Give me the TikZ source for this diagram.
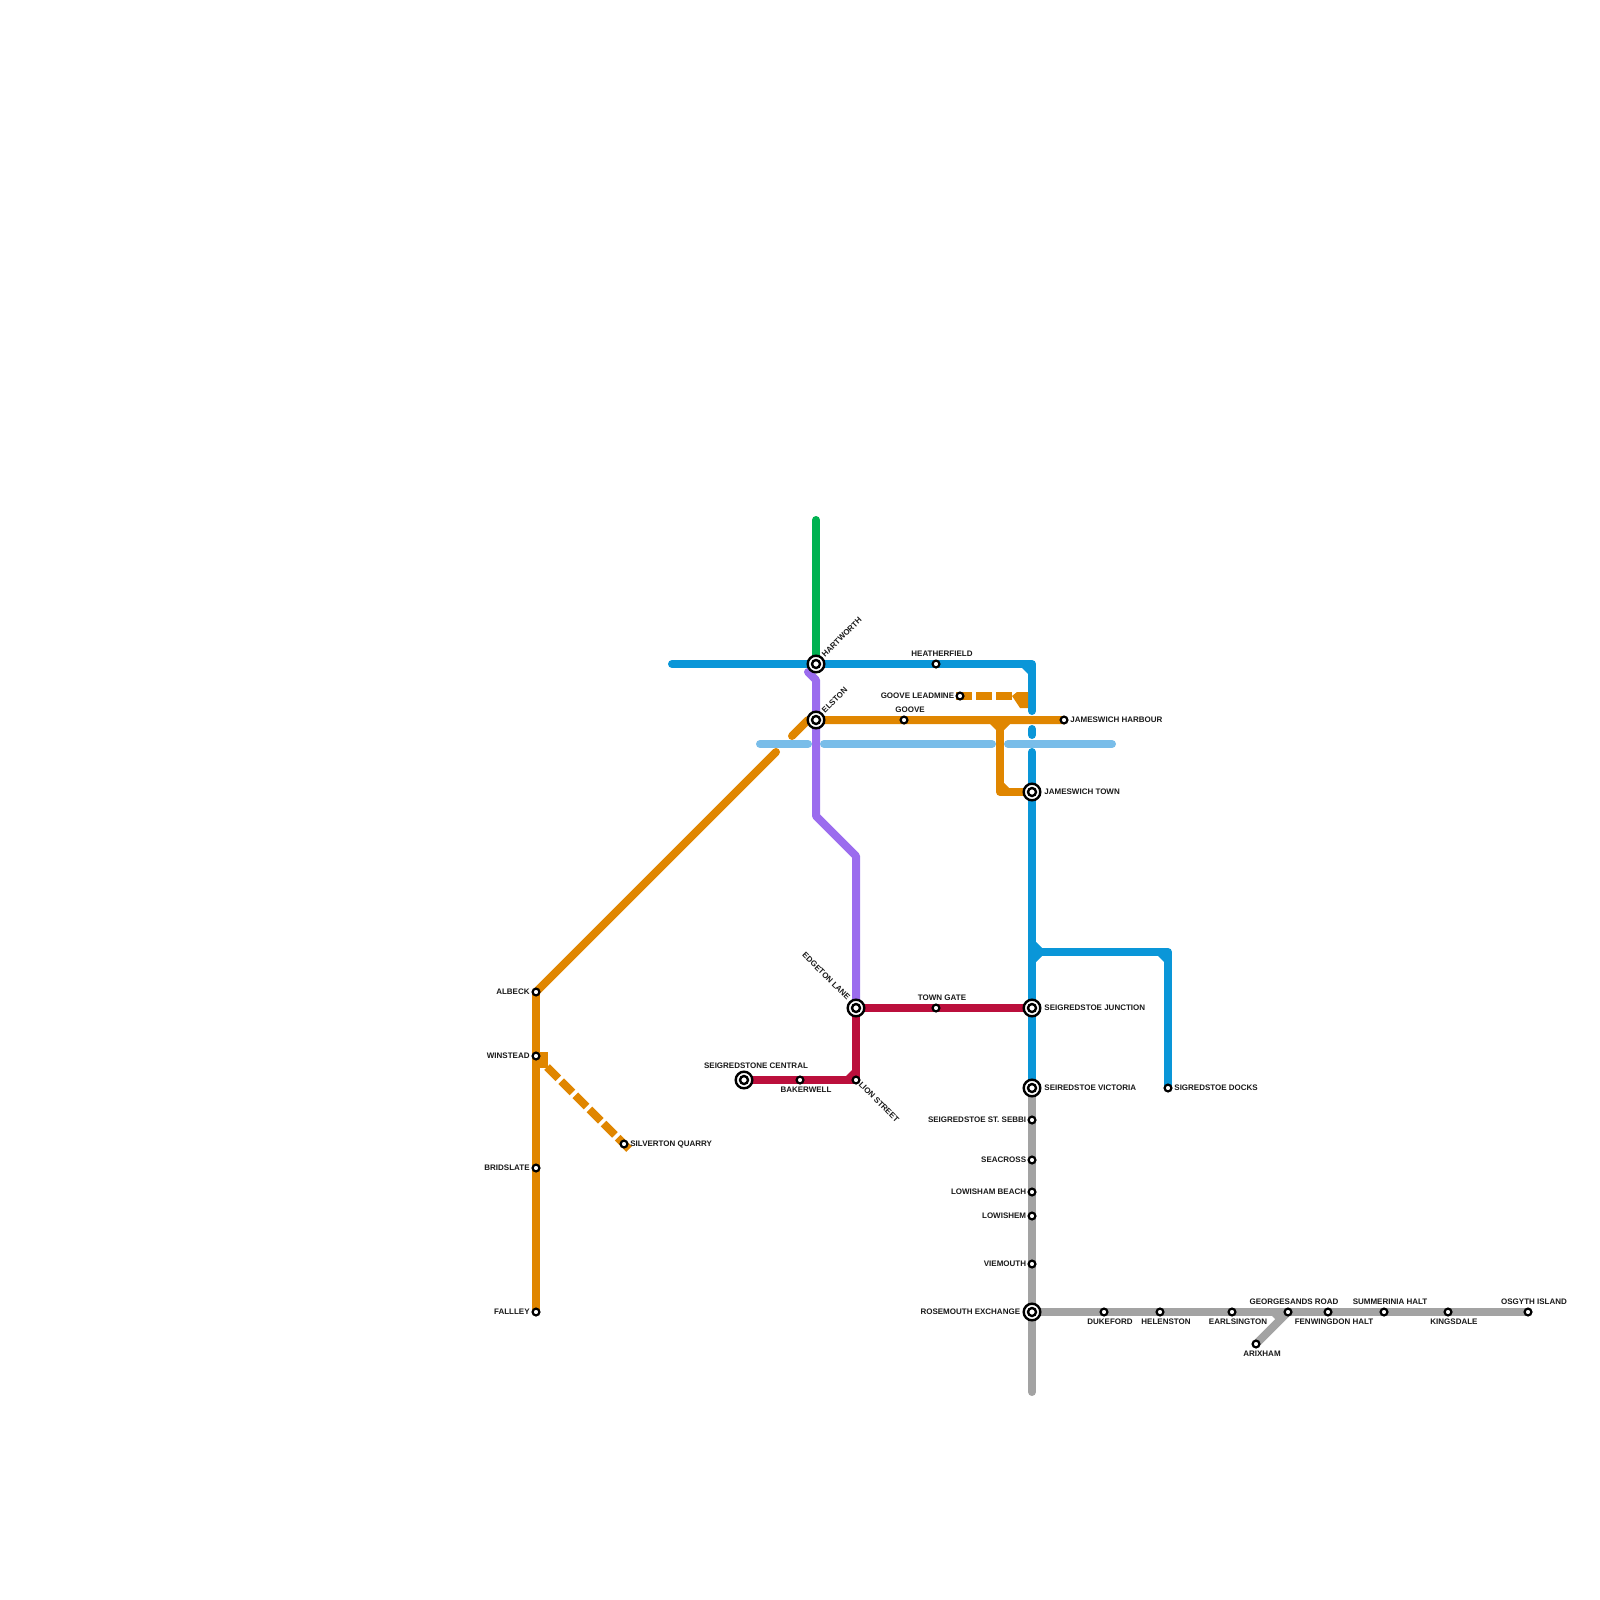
\documentclass[tikz,border=0pt]{standalone}
\usepackage{fontspec}
\setmainfont{Liberation Sans}
\usetikzlibrary{backgrounds}
\definecolor{cblue}{HTML}{0A96D8}
\definecolor{clight}{HTML}{79BDE9}
\definecolor{corange}{HTML}{E08600}
\definecolor{cpurple}{HTML}{9B6CEE}
\definecolor{cred}{HTML}{BB0F3C}
\definecolor{cgreen}{HTML}{00B251}
\definecolor{cgrey}{HTML}{A3A3A3}
\tikzset{
 x=0.5pt,y=-0.5pt,
 metro/.style={line width=4pt,line join=round,line cap=round},
 butt/.style={line width=4pt,line cap=butt,line join=miter},
 stn/.style={circle,draw=black,fill=white,line width=1.1pt,minimum size=3.4pt,inner sep=0pt},
 hub/.style={circle,draw=black,fill=white,line width=1.2pt,minimum size=8.3pt,inner sep=0pt},
 hubin/.style={circle,draw=black,fill=white,line width=1.2pt,minimum size=4pt,inner sep=0pt},
 lab/.style={font=\bfseries\fontsize{4pt}{4.2pt}\selectfont,inner sep=0pt,text=black!90},
}
\begin{document}
\begin{tikzpicture}
\useasboundingbox (0,0) rectangle (1600,1600);
% interchange stations
\foreach \n/\p in {hart/{816,664},elst/{816,720},jtown/{1032,792},edge/{856,1008},sjun/{1032,1008},svic/{1032,1088},scen/{744,1080},rose/{1032,1312}}{
  \node[hub] (\n) at (\p) {};
  \node[hubin] (\n in) at (\p) {};
}
% ordinary stations
\foreach \n/\p in {heat/{936,664},goove/{904,720},lead/{960,696},jhar/{1064,720},town/{936,1008},bake/{800,1080},lion/{856,1080},dock/{1168,1088},sebb/{1032,1120},seac/{1032,1160},lbea/{1032,1192},lowi/{1032,1216},viem/{1032,1264},duke/{1104,1312},hele/{1160,1312},earl/{1232,1312},geor/{1288,1312},fenw/{1328,1312},summ/{1384,1312},king/{1448,1312},osgy/{1528,1312},arix/{1256,1344},albe/{536,992},wins/{536,1056},brid/{536,1168},fall/{536,1312},silv/{624,1144}}{
  \node[stn] (\n) at (\p) {};
}
% bends and free ends
\coordinate (gtop) at (816,520);
\coordinate (bl) at (672,664);
\coordinate (bc) at (1032,664);
\coordinate (b1) at (1032,711);
\coordinate (b2) at (1032,729);
\coordinate (b3) at (1032,735);
\coordinate (b4) at (1032,752);
\coordinate (bj) at (1032,952);
\coordinate (bd) at (1168,952);
\coordinate (p0) at (808,672);
\coordinate (p1) at (816,680);
\coordinate (p2) at (816,816);
\coordinate (p3) at (856,856);
\coordinate (o1) at (776,752);
\coordinate (o2) at (792,736);
\coordinate (o3) at (808,720);
\coordinate (oj) at (1000,720);
\coordinate (ok) at (1000,792);
\coordinate (gb) at (1032,1392);
\coordinate (gj) at (1032,1312);
\coordinate (lb1) at (760,744);
\coordinate (lb2) at (808,744);
\coordinate (lb3) at (824,744);
\coordinate (lb4) at (992,744);
\coordinate (lb5) at (1008,744);
\coordinate (lb6) at (1112,744);
\begin{pgfonlayer}{background}
 \draw[metro,cgreen] (gtop) -- (hart.center);
 \draw[metro,cpurple] (p0) -- (p1) -- (p2) -- (p3) -- (edge.center);
 % blue
 \draw[metro,cblue] (bl) -- (hart.center) -- (bc) -- (b1);
 \draw[metro,cblue] (b2) -- (b3);
 \draw[metro,cblue] (b4) -- (svic.center);
 \draw[metro,cblue] (bj) -- (bd) -- (dock.center);
 \fill[cblue] (1028,668) -- (1022,668) -- (1028,674) -- cycle;
 \fill[cblue] (1164,956) -- (1158,956) -- (1164,962) -- cycle;
 \fill[cblue] (1036,942) -- (1036,948) -- (1042,948) -- cycle;
 \fill[cblue] (1036,962) -- (1036,956) -- (1042,956) -- cycle;
 % orange
 \draw[metro,corange] (albe.center) -- (o1);
 \draw[metro,corange] (o2) -- (o3) -- (elst.center) -- (goove.center) -- (jhar.center);
 \draw[metro,corange] (albe.center) -- (fall.center);
 \draw[metro,corange] (oj) -- (ok) -- (jtown.center);
 \fill[corange] (990,724) -- (996,724) -- (996,730) -- cycle;
 \fill[corange] (1010,724) -- (1004,724) -- (1004,730) -- cycle;
 \fill[corange] (1004,783) -- (1004,788) -- (1009,788) -- cycle;
 \draw[butt,corange,dash pattern=on 8pt off 2pt] (956,696) -- (1012,696);
 \fill[corange] (1012,696) -- (1017,692) -- (1028,692) -- (1028,708) -- (1020,708) -- cycle;
 \fill[corange] (532,1052) rectangle (548,1068);
 \draw[butt,corange,dash pattern=on 8pt off 2pt] (547,1067) -- (629,1149);
 % light blue
 \draw[metro,clight] (lb1) -- (lb2);
 \draw[metro,clight] (lb3) -- (lb4);
 \draw[metro,clight] (lb5) -- (lb6);
 % red
 \draw[metro,cred] (scen.center) -- (lion.center) -- (edge.center) -- (sjun.center);
 \fill[cred] (852,1076) -- (852,1070) -- (846,1076) -- cycle;
 % grey
 \draw[metro,cgrey] (svic.center) -- (gb);
 \draw[metro,cgrey] (gj) -- (osgy.center);
 \draw[metro,cgrey] (geor.center) -- (arix.center);
 \fill[cgrey] (1272,1316) -- (1279,1316) -- (1275.5,1319.5) -- cycle;
\end{pgfonlayer}
% labels
\node[lab,anchor=west,rotate=45] (t1) at (823,656) {HARTWORTH};
\node[lab,anchor=west,rotate=45] (t2) at (823,712) {ELSTON};
\node[lab,anchor=east,rotate=-45] (t3) at (849,999) {EDGETON LANE};
\node[lab,anchor=west,rotate=-45] (t4) at (860,1083) {LION STREET};
\node[lab] (t5) at (942,654) {HEATHERFIELD};
\node[lab] (t6) at (910,710) {GOOVE};
\node[lab,anchor=east] (t7) at (954.5,696) {GOOVE LEADMINE};
\node[lab,anchor=west] (t8) at (1070,720) {JAMESWICH HARBOUR};
\node[lab,anchor=west] (t9) at (1044,792) {JAMESWICH TOWN};
\node[lab] (t10) at (942,998) {TOWN GATE};
\node[lab,anchor=west] (t11) at (1044,1008) {SEIGREDSTOE JUNCTION};
\node[lab,anchor=west] (t12) at (1044,1088) {SEIREDSTOE VICTORIA};
\node[lab,anchor=west] (t13) at (1174,1088) {SIGREDSTOE DOCKS};
\node[lab] (t14) at (756,1066) {SEIGREDSTONE CENTRAL};
\node[lab] (t15) at (806,1090) {BAKERWELL};
\node[lab,anchor=east] (t16) at (1026.5,1120) {SEIGREDSTOE ST. SEBBI};
\node[lab,anchor=east] (t17) at (1026.5,1160) {SEACROSS};
\node[lab,anchor=east] (t18) at (1026.5,1192) {LOWISHAM BEACH};
\node[lab,anchor=east] (t19) at (1026.5,1216) {LOWISHEM};
\node[lab,anchor=east] (t20) at (1026.5,1264) {VIEMOUTH};
\node[lab,anchor=east] (t21) at (1020.5,1312) {ROSEMOUTH EXCHANGE};
\node[lab,anchor=east] (t22) at (530,992) {ALBECK};
\node[lab,anchor=east] (t23) at (530,1056) {WINSTEAD};
\node[lab,anchor=east] (t24) at (530,1168) {BRIDSLATE};
\node[lab,anchor=east] (t25) at (530,1312) {FALLLEY};
\node[lab,anchor=west] (t26) at (630,1144) {SILVERTON QUARRY};
\node[lab] (t27) at (1110,1322) {DUKEFORD};
\node[lab] (t28) at (1166,1322) {HELENSTON};
\node[lab] (t29) at (1238,1322) {EARLSINGTON};
\node[lab] (t30) at (1294,1302) {GEORGESANDS ROAD};
\node[lab] (t31) at (1334,1322) {FENWINGDON HALT};
\node[lab] (t32) at (1262,1354) {ARIXHAM};
\node[lab] (t33) at (1390,1302) {SUMMERINIA HALT};
\node[lab] (t34) at (1454,1322) {KINGSDALE};
\node[lab] (t35) at (1534,1302) {OSGYTH ISLAND};
\end{tikzpicture}
\end{document}
